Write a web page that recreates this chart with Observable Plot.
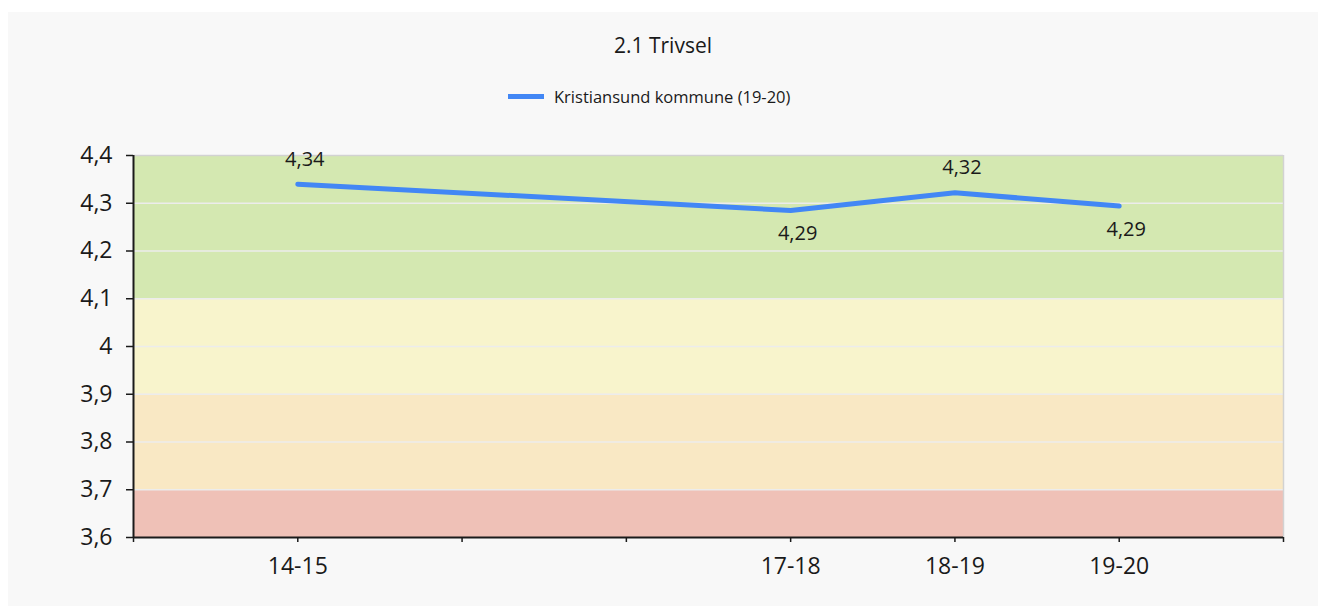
<!DOCTYPE html>
<html>
<head>
<meta charset="utf-8">
<script src="https://cdn.jsdelivr.net/npm/d3@7"></script>
<script src="https://cdn.jsdelivr.net/npm/@observablehq/plot@0.6"></script>
<style>
  html, body { margin: 0; padding: 0; background: #ffffff; width: 1318px; height: 606px; overflow: hidden; }
  #panel { position: absolute; left: 8px; top: 12px; width: 1310px; height: 594px; background: #f8f8f8;
           font-family: "Open Sans", "Noto Sans", sans-serif; color: #1a1a1a; }
  #title { position: absolute; left: 0; top: 20px; width: 1310px; text-align: center; font-size: 21px; line-height: 26px; }
  #legend { position: absolute; left: 500px; top: 72px; height: 24px; display: flex; align-items: center; font-size: 16.5px; }
  #legend .swatch { width: 36px; height: 5px; background: #4287f5; margin-right: 10px; }
  #chart { position: absolute; left: 0; top: 108px; }
</style>
</head>
<body>
<div id="panel">
  <div id="title">2.1 Trivsel</div>
  <div id="legend"><span class="swatch"></span><span>Kristiansund kommune (19-20)</span></div>
  <div id="chart"></div>
</div>
<script>
// Slots along the x axis (empty strings are unlabeled tick positions)
const slotLabels = ["", "14-15", "15-16", "16-17", "17-18", "18-19", "19-20", ""];
const shownLabels = ["14-15", "17-18", "18-19", "19-20"];
// Series
const seasons = ["14-15", "17-18", "18-19", "19-20"];
const values = [4.34, 4.285, 4.322, 4.294];
const valueLabels = ["4,34", "4,29", "4,32", "4,29"];
const labelAbove = [true, false, true, false];
// Background bands
const bandLow = [4.1, 3.9, 3.7, 3.6];
const bandHigh = [4.4, 4.1, 3.9, 3.7];
const bandColors = ["#d4e8b1", "#f8f4cc", "#f9e8c4", "#efc1b7"];
// Y ticks
const yTicks = [3.6, 3.7, 3.8, 3.9, 4.0, 4.1, 4.2, 4.3, 4.4];

const points = seasons.map((s, i) => ({
  x: slotLabels.indexOf(s), y: values[i], label: valueLabels[i], above: labelAbove[i]
}));
const bands = bandLow.map((lo, i) => ({ lo, hi: bandHigh[i], color: bandColors[i] }));
const xTicks = slotLabels.map((_, i) => i);
const fmtY = d => String(+d.toFixed(1)).replace(".", ",");
const fmtX = i => shownLabels.includes(slotLabels[i]) ? slotLabels[i] : "";

const chart = Plot.plot({
  width: 1310,
  height: 486,
  marginLeft: 125,
  marginRight: 35,
  marginTop: 35,
  marginBottom: 69,
  style: { fontFamily: "'Open Sans', 'Noto Sans', sans-serif", background: "transparent", color: "#1a1a1a" },
  x: { type: "linear", domain: [0, 7], ticks: xTicks, label: null },
  y: { domain: [3.6, 4.4], ticks: yTicks, label: null },
  marks: [
    Plot.rectY(bands, { x1: 0, x2: 7, y1: "lo", y2: "hi", fill: "color" }),
    Plot.ruleY(yTicks.slice(1, -1), { stroke: "#ececec", strokeWidth: 1.5 }),
    Plot.ruleY([4.4], { stroke: "#d2d2d2", strokeWidth: 1.5 }),
    Plot.ruleX([7], { y1: 3.6, y2: 4.4, stroke: "#d2d2d2", strokeWidth: 1.5 }),
    Plot.axisY({ ticks: yTicks, tickFormat: fmtY, tickSize: 7, tickPadding: 14, fontSize: 23, stroke: "#1a1a1a", strokeWidth: 1.5, label: null }),
    Plot.axisX({ ticks: xTicks, tickFormat: fmtX, tickSize: 5, tickPadding: 15, fontSize: 23, stroke: "#1a1a1a", strokeWidth: 1.5, label: null }),
    Plot.ruleX([0], { y1: 3.6, y2: 4.4, stroke: "#1a1a1a", strokeWidth: 2 }),
    Plot.ruleY([3.6], { x1: 0, x2: 7, stroke: "#1a1a1a", strokeWidth: 2 }),
    Plot.line(points, { x: "x", y: "y", stroke: "#4287f5", strokeWidth: 5, strokeLinejoin: "round", strokeLinecap: "round" }),
    Plot.text(points, { x: "x", y: "y", text: "label", dx: 7, fontSize: 20, fill: "#1a1a1a",
      filter: d => d.above, dy: -25 }),
    Plot.text(points, { x: "x", y: "y", text: "label", dx: 7, fontSize: 20, fill: "#1a1a1a",
      filter: d => !d.above, dy: 23 })
  ]
});
document.getElementById("chart").appendChild(chart);
</script>
</body>
</html>
